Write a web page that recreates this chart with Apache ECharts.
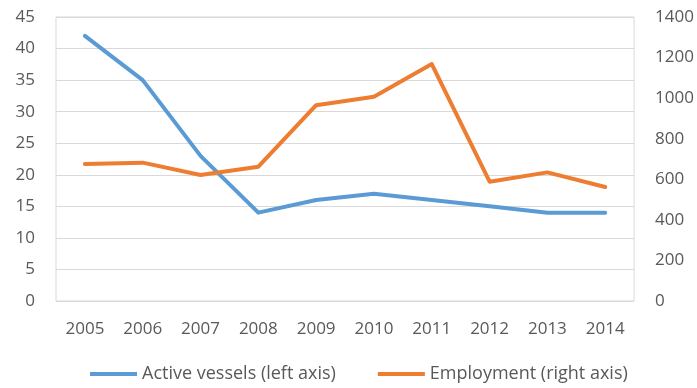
<!DOCTYPE html>
<html>
<head>
<meta charset="utf-8">
<script src="https://cdn.jsdelivr.net/npm/echarts@6/dist/echarts.min.js"></script>
<style>
  html, body { margin: 0; padding: 0; background: #ffffff; }
  #chart { width: 697px; height: 388px; }
</style>
</head>
<body>
<div id="chart"></div>
<script>
// Fleet activity and employment, 2005-2014
const years = ['2005', '2006', '2007', '2008', '2009', '2010', '2011', '2012', '2013', '2014'];
const activeVessels = [42, 35, 23, 14, 16, 17, 16, 15, 14, 14];
const employment = [675, 682, 621, 662, 965, 1007, 1168, 588, 634, 562];
const seriesNames = ['Active vessels (left axis)', 'Employment (right axis)'];

const textColor = '#595959';
const gridColor = '#d9d9d9';
const fontFamily = '"Open Sans", "Noto Sans", sans-serif';

const chart = echarts.init(document.getElementById('chart'), null, { renderer: 'canvas' });

chart.setOption({
  animation: false,
  backgroundColor: '#ffffff',
  grid: {
    left: 56, right: 61, top: 17, bottom: 87,
    show: true, borderColor: gridColor, borderWidth: 1, backgroundColor: 'transparent'
  },
  legend: {
    data: seriesNames,
    left: 90,
    top: 365,
    padding: 0,
    icon: 'rect',
    itemWidth: 47,
    itemHeight: 4,
    itemGap: 42,
    textStyle: { color: textColor, fontSize: 18, fontFamily: fontFamily }
  },
  xAxis: {
    type: 'category',
    data: years,
    boundaryGap: true,
    axisLine: { show: false },
    axisTick: { show: false },
    axisLabel: { color: textColor, fontSize: 17, fontFamily: fontFamily, margin: 20 }
  },
  yAxis: [
    {
      type: 'value',
      min: 0, max: 45, interval: 5,
      axisLine: { show: false },
      axisTick: { show: false },
      splitLine: { lineStyle: { color: gridColor, width: 1 } },
      axisLabel: { color: textColor, fontSize: 17, fontFamily: fontFamily, margin: 21 }
    },
    {
      type: 'value',
      min: 0, max: 1400, interval: 200,
      position: 'right',
      axisLine: { show: false },
      axisTick: { show: false },
      splitLine: { show: false },
      axisLabel: {
        color: textColor, fontSize: 17, fontFamily: fontFamily, margin: 21,
        formatter: function (v) { return String(v); }
      }
    }
  ],
  series: [
    {
      name: seriesNames[0],
      type: 'line',
      yAxisIndex: 0,
      data: activeVessels,
      symbol: 'none',
      lineStyle: { color: '#5b9bd5', width: 4, cap: 'round', join: 'round' },
      itemStyle: { color: '#5b9bd5' }
    },
    {
      name: seriesNames[1],
      type: 'line',
      yAxisIndex: 1,
      data: employment,
      symbol: 'none',
      lineStyle: { color: '#ed7d31', width: 4, cap: 'round', join: 'round' },
      itemStyle: { color: '#ed7d31' }
    }
  ]
});
</script>
</body>
</html>
